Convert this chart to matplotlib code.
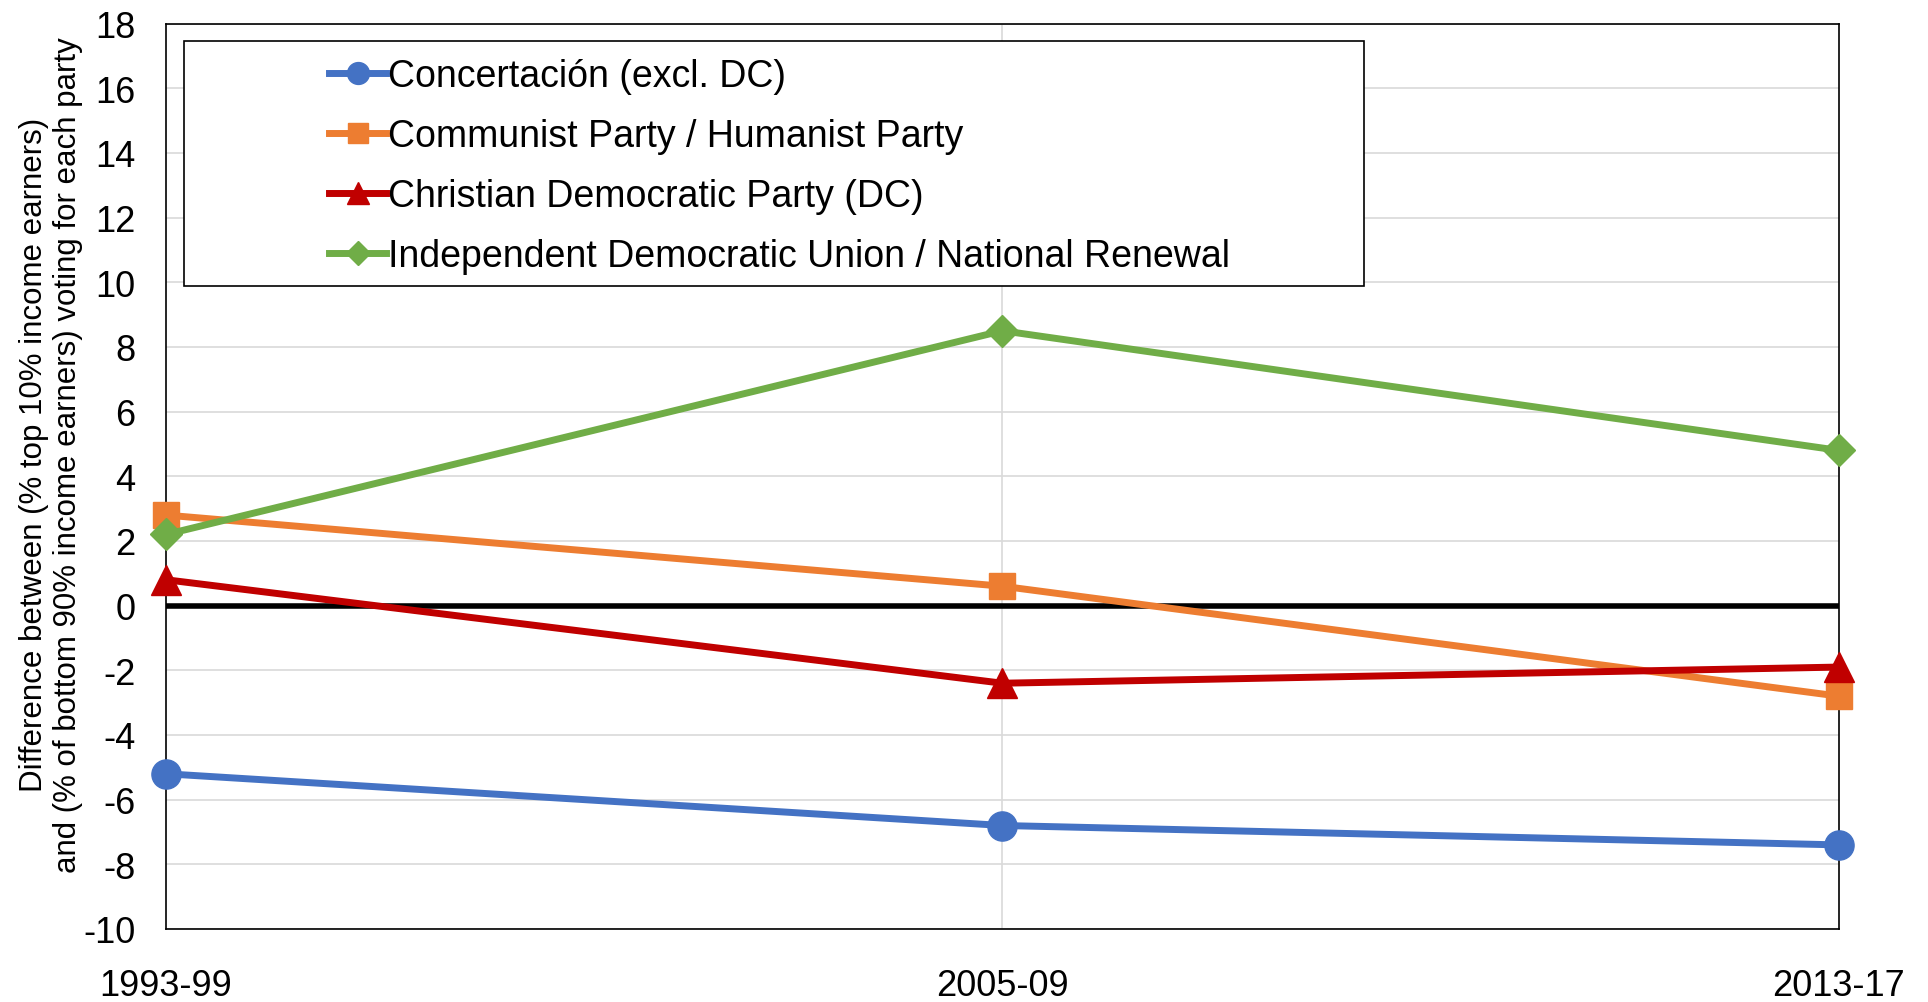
import numpy as np
import matplotlib.pyplot as plt
import matplotlib as mpl
from matplotlib.patches import Rectangle

plt.rcParams["font.family"] = ["Liberation Sans", "DejaVu Sans"]
plt.rcParams["axes.unicode_minus"] = False

periods = ["1993-99", "2005-09", "2013-17"]
concertacion = [-5.2, -6.8, -7.4]
communist_humanist = [2.8, 0.6, -2.8]
christian_dem = [0.8, -2.4, -1.9]
udi_rn = [2.2, 8.5, 4.8]

series = [
    ("Concertación (excl. DC)", concertacion, "#4472C4", "o", 21),
    ("Communist Party / Humanist Party", communist_humanist, "#ED7D31", "s", 19),
    ("Christian Democratic Party (DC)", christian_dem, "#C00000", "^", 21),
    ("Independent Democratic Union / National Renewal", udi_rn, "#70AD47", "D", 16.5),
]

fig = plt.figure(figsize=(19.28, 10.03), dpi=100)
ax = fig.add_axes([0.0861, 0.0728, 0.8677, 0.9027])

x = np.arange(len(periods))

for y in range(-10, 19, 2):
    ax.axhline(y, color="#d9d9d9", linewidth=1.2, zorder=0)
ax.axvline(1, color="#d9d9d9", linewidth=1.2, zorder=0)
ax.axhline(0, color="black", linewidth=4, zorder=1)

for label, vals, col, mk, ms in series:
    ax.plot(x, vals, color=col, marker=mk, markersize=ms, linewidth=5,
            label=label, zorder=3, clip_on=False)

ax.set_xlim(0, 2)
ax.set_ylim(-10, 18)
ax.set_yticks(range(-10, 19, 2))
ax.set_xticks(x)
ax.set_xticklabels(periods)
ax.tick_params(axis="both", length=0, labelsize=26)
ax.tick_params(axis="x", pad=28)
ax.tick_params(axis="y", pad=22)
for s in ax.spines.values():
    s.set_linewidth(1.2)
    s.set_color("black")

fig.text(0.0265, 0.546,
         "Difference between (% top 10% income earners)\nand (% of bottom 90% income earners) voting for each party",
         rotation=90, ha="center", va="center", multialignment="center",
         fontsize=22.5, linespacing=1.15)

# legend box drawn separately so it can be wider than the text
ax.add_patch(Rectangle((0.011, 0.7106), 0.7053, 0.2704, transform=ax.transAxes,
                       fill=True, facecolor="white", edgecolor="black",
                       linewidth=1.2, zorder=4))
leg = ax.legend(loc="upper left", bbox_to_anchor=(0.0977, 0.962), frameon=False,
                fontsize=27, handlelength=1.5, handletextpad=0.05,
                labelspacing=0.64, borderpad=0, borderaxespad=0, markerscale=0.75)
leg.set_zorder(5)

plt.savefig("out.png")
